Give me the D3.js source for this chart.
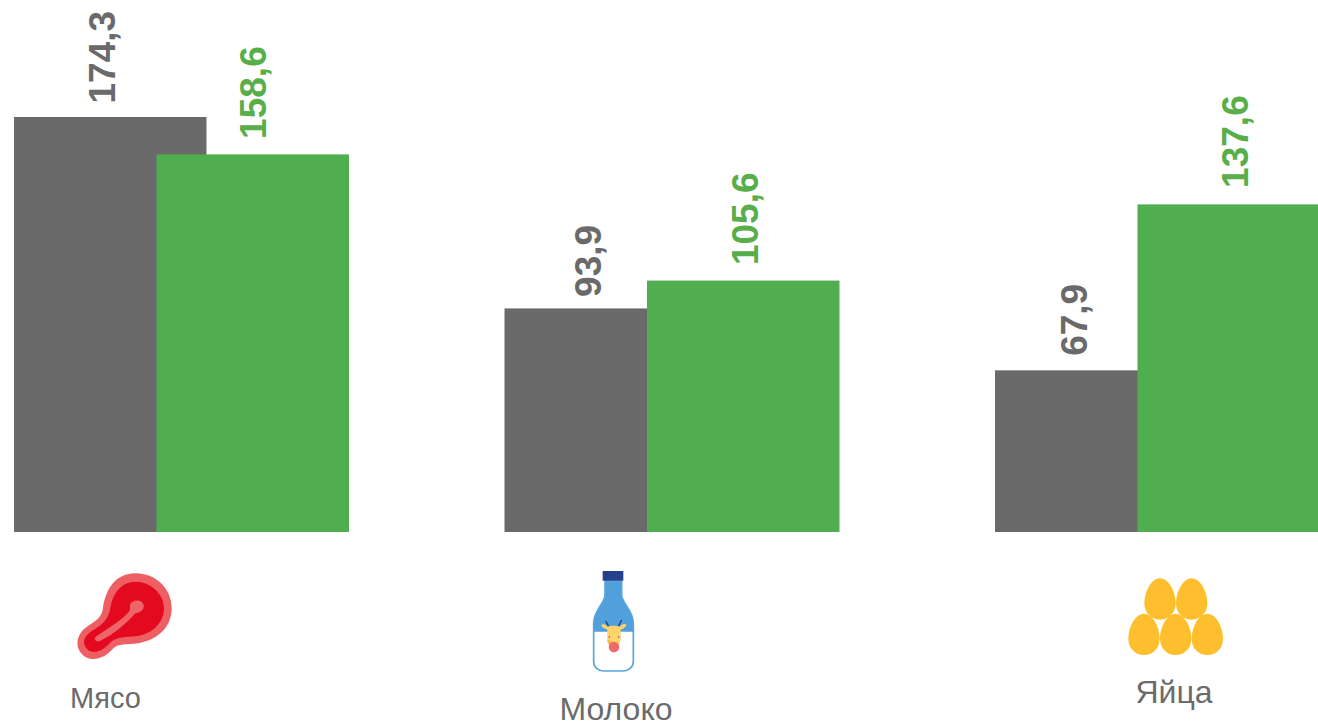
<!DOCTYPE html>
<html>
<head>
<meta charset="utf-8">
<script src="https://cdn.jsdelivr.net/npm/d3@7"></script>
<style>
  html, body { margin: 0; padding: 0; background: #fff; overflow: hidden; }
  text { font-family: "Liberation Sans", Arial, sans-serif; }
</style>
</head>
<body>
<div id="chart"></div>
<script>
const categories = ["Мясо", "Молоко", "Яйца"];
const seriesNames = ["grey", "green"];
const greyValues = [174.3, 93.9, 67.9];
const greenValues = [158.6, 105.6, 137.6];

const width = 1318, height = 724;
const colors = { grey: "#6a6a6a", green: "#50ae50" };
const labelColors = { grey: "#6a6a6a", green: "#58ae49" };

const svg = d3.select("#chart").append("svg")
  .attr("width", width)
  .attr("height", height)
  .style("display", "block");

const x = d3.scalePoint().domain(categories).range([14, 995]);
const offset = d3.scalePoint().domain(seriesNames).range([0, 142.5]);
const y = d3.scaleLinear().domain([0, 174.3]).range([532, 117]);
const barWidth = 192.5;

const rows = [];
categories.forEach((c, i) => {
  rows.push({ cat: c, s: "grey", v: greyValues[i], i });
  rows.push({ cat: c, s: "green", v: greenValues[i], i });
});

svg.selectAll("rect.bar")
  .data(rows)
  .enter()
  .append("rect")
  .attr("class", "bar")
  .attr("x", d => x(d.cat) + offset(d.s))
  .attr("y", d => y(d.v))
  .attr("width", barWidth)
  .attr("height", d => y(0) - y(d.v))
  .attr("fill", d => colors[d.s]);

// value labels sit a bit differently over each bar in the original
const labelShift = { grey: [100.5, 96.5, 91.5], green: [109, 110.5, 110] };
const labelGap = { grey: [13.5, 11.5, 14.5], green: [15.5, 15.5, 16.5] };

svg.selectAll("text.value")
  .data(rows)
  .enter()
  .append("text")
  .attr("class", "value")
  .attr("transform", d => {
    const lx = x(d.cat) + offset(d.s) + labelShift[d.s][d.i];
    const ly = y(d.v) - labelGap[d.s][d.i];
    return `translate(${lx},${ly}) rotate(-90)`;
  })
  .attr("font-size", 37)
  .attr("font-weight", "bold")
  .attr("fill", d => labelColors[d.s])
  .text(d => d3.format(".1f")(d.v).replace(".", ","));

// category names
const nameX = [105.5, 616, 1174];
const nameY = [708, 720, 703];
const nameSize = [29, 32, 32];

svg.selectAll("text.cat")
  .data(categories)
  .enter()
  .append("text")
  .attr("class", "cat")
  .attr("x", (d, i) => nameX[i])
  .attr("y", (d, i) => nameY[i])
  .attr("text-anchor", "middle")
  .attr("font-size", (d, i) => nameSize[i])
  .attr("fill", "#6b6b6b")
  .text(d => d);

// icons, traced at 3x from the picture
const meat = svg.append("g").attr("transform", "translate(50,560) scale(0.3333)");
meat.append("path")
  .attr("fill", "#ee5f63")
  .attr("d", "M255 40C310 38 365 80 365 145C365 205 320 240 265 250C230 255 205 250 190 265C165 295 130 305 105 290C75 270 75 230 105 205C130 185 150 180 158 150C165 95 190 42 255 40Z");
meat.append("path")
  .attr("fill", "#e30a20")
  .attr("d", "M258 65C300 65 342 100 342 145C342 190 305 222 262 228C225 232 200 230 180 248C160 272 130 285 112 268C95 250 100 230 125 213C150 198 172 185 180 150C186 105 210 65 258 65Z");
meat.append("path")
  .attr("fill", "#ee6468")
  .attr("d", "M240 135C245 118 277 116 281 135C284 150 270 158 256 160C235 185 190 225 150 243C135 247 130 235 140 228C175 205 225 175 240 150Z");

const bottle = svg.append("g").attr("transform", "translate(550,560) scale(0.3333)");
const bottleShape = "M165 62L215 62L215 105C215 130 250 150 250 190L250 305C250 322 235 333 220 333L160 333C145 333 131 322 131 305L131 190C131 150 165 130 165 105Z";
bottle.append("path").attr("d", bottleShape).attr("fill", "#fff");
bottle.append("path")
  .attr("fill", "#519fdb")
  .attr("d", "M165 62L215 62L215 105C215 130 250 150 250 190L250 215L131 215L131 190C131 150 165 130 165 105Z");
bottle.append("path").attr("d", bottleShape).attr("fill", "none").attr("stroke", "#5aa5dd").attr("stroke-width", 5);
bottle.append("rect").attr("x", 158).attr("y", 33).attr("width", 62).attr("height", 29).attr("fill", "#27408b");
// cow
bottle.append("path").attr("d", "M178 203L167 183M203 203L215 180").attr("stroke", "#27408b").attr("stroke-width", 4).attr("fill", "none");
bottle.append("path").attr("fill", "#fdd36a")
  .attr("d", "M172 200C165 190 158 192 153 196C158 204 165 208 172 208L172 235C172 250 180 262 192 262C204 262 212 250 212 235L212 208C220 208 226 202 230 194C222 190 216 192 210 200C200 196 182 196 172 200Z");
bottle.append("path").attr("fill", "#f8b73c").attr("d", "M172 238C172 250 180 262 192 262L192 250Z");
bottle.append("ellipse").attr("cx", 192).attr("cy", 261).attr("rx", 16).attr("ry", 16).attr("fill", "#ef6a6c");
bottle.append("circle").attr("cx", 178).attr("cy", 231).attr("r", 2).attr("fill", "#27408b");
bottle.append("circle").attr("cx", 206).attr("cy", 231).attr("r", 2).attr("fill", "#27408b");

const eggX = [150, 245, 102, 197, 292];
const eggY = [117, 117, 223, 223, 223];
const eggs = svg.append("g").attr("transform", "translate(1110,560) scale(0.3333)");
eggs.selectAll("path")
  .data(eggX)
  .enter()
  .append("path")
  .attr("fill", "#fdbf2d")
  .attr("transform", (d, i) => `translate(${d},${eggY[i]})`)
  .attr("d", "M0 -62C28 -62 47 -18 47 13C47 42 26 62 0 62C-26 62 -47 42 -47 13C-47 -18 -28 -62 0 -62Z");
</script>
</body>
</html>
